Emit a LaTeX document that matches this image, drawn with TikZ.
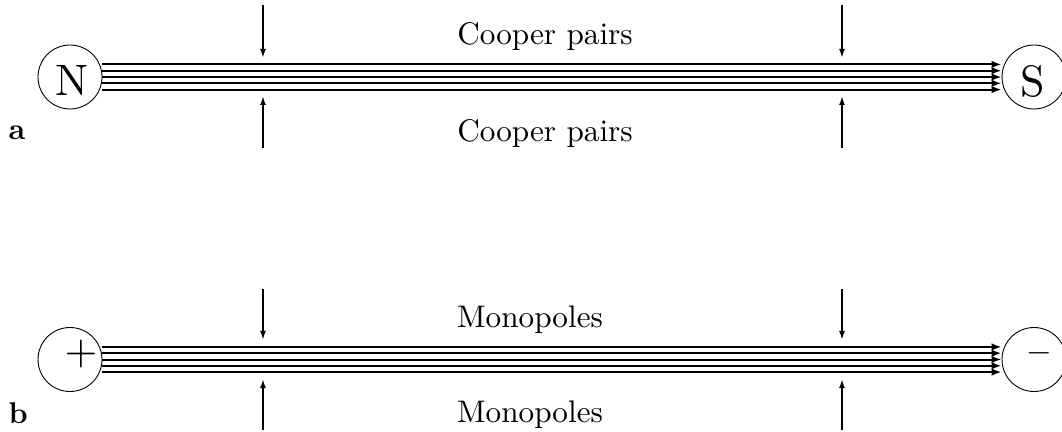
\documentclass[tikz,border=0pt]{standalone}
\usetikzlibrary{arrows.meta}
\begin{document}
\begin{tikzpicture}[x=1pt,y=1pt,
  pole/.style={circle,draw,line width=0.9pt,minimum size=64pt,inner sep=0pt},
  poletext/.style={inner sep=0pt,scale=4.4,transform shape},
  lbl/.style={inner sep=0pt,anchor=base,scale=3.12,transform shape},
  panel/.style={inner sep=0pt,anchor=base west,scale=3.0,transform shape,font=\bfseries},
  flux/.style={line width=2pt,-{Latex[length=10pt,width=7.5pt]}},
  push/.style={line width=2pt,-{Latex[length=9pt,width=6pt]}}]
\useasboundingbox (0,0) rectangle (1062,431);
% ---------- panel a ----------
\node[pole] (N) at (70,354) {};
\node[pole] (S) at (1034,354) {};
\node[poletext] (Nt) at (72,351) {N};
\node[poletext] (St) at (1033,350) {S};
\foreach \d in {-12.6,-6.3,0,6.3,12.6}
  \draw[flux] ([yshift=\d pt]N.east) -- ([yshift=\d pt]S.west);
\node[lbl] (cpt) at (545,386) {Cooper pairs};
\node[lbl] (cpb) at (545,289) {Cooper pairs};
\node[panel] (la) at (8,291) {a};
\coordinate (a1s) at (263,426); \coordinate (a1e) at (263,373);
\coordinate (a2s) at (842,426); \coordinate (a2e) at (842,373);
\coordinate (a3s) at (263,283); \coordinate (a3e) at (263,335);
\coordinate (a4s) at (842,283); \coordinate (a4e) at (842,335);
\draw[push] (a1s) -- (a1e);
\draw[push] (a2s) -- (a2e);
\draw[push] (a3s) -- (a3e);
\draw[push] (a4s) -- (a4e);
% ---------- panel b ----------
\node[pole] (P) at (70,71.5) {};
\node[pole] (M) at (1034,71.5) {};
\node[inner sep=0pt,scale=4.2,transform shape] (plus) at (81,77) {$+$};
\node[inner sep=0pt,scale=3.3,transform shape] (minus) at (1039,78) {$-$};
\foreach \d in {-12.6,-6.3,0,6.3,12.6}
  \draw[flux] ([yshift=\d pt]P.east) -- ([yshift=\d pt]M.west);
\node[lbl] (mpt) at (530,104) {Monopoles};
\node[lbl] (mpb) at (530,9) {Monopoles};
\node[panel] (lb) at (8,8) {b};
\coordinate (b1s) at (263,142); \coordinate (b1e) at (263,91);
\coordinate (b2s) at (842,142); \coordinate (b2e) at (842,91);
\coordinate (b3s) at (263,1);   \coordinate (b3e) at (263,52);
\coordinate (b4s) at (842,1);   \coordinate (b4e) at (842,52);
\draw[push] (b1s) -- (b1e);
\draw[push] (b2s) -- (b2e);
\draw[push] (b3s) -- (b3e);
\draw[push] (b4s) -- (b4e);
\end{tikzpicture}
\end{document}
